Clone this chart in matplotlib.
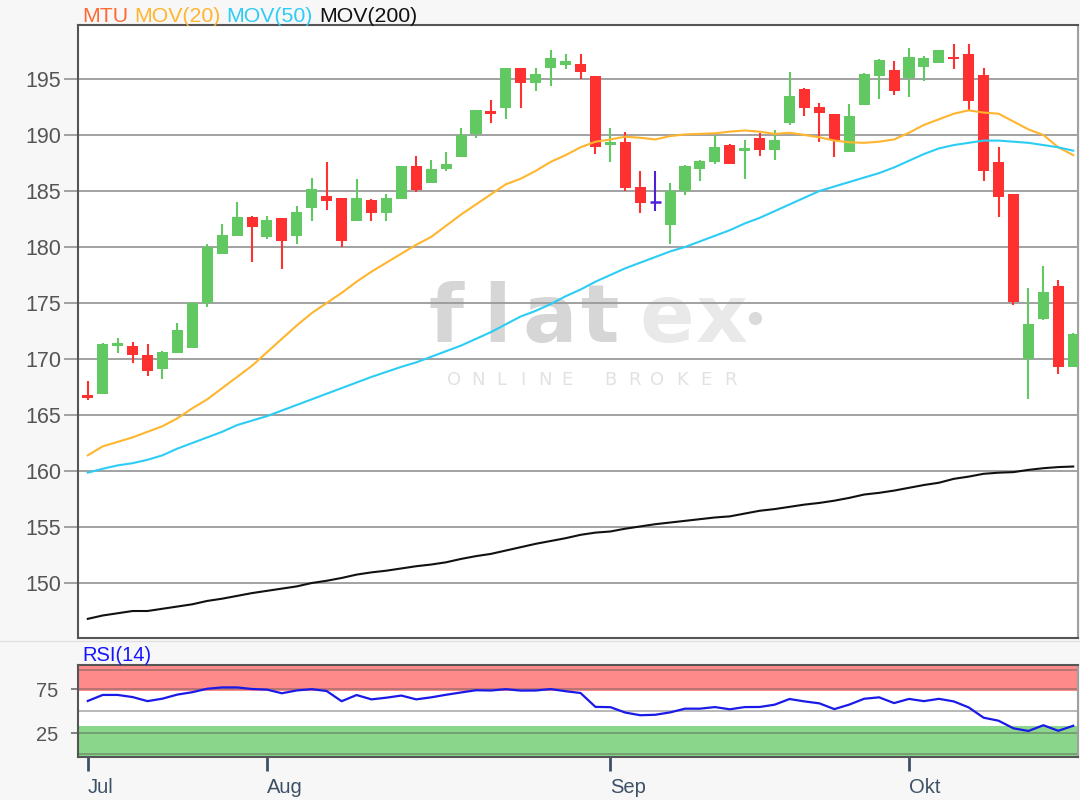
import matplotlib
matplotlib.use("Agg")
import matplotlib.pyplot as plt
from matplotlib.lines import Line2D
import numpy as np

# ---------------- data ----------------
opens = [166.8, 166.9, 171.2, 171.15, 170.4, 169.1, 170.5, 171.0, 175.0, 179.4,
         181.0, 182.7, 180.9, 182.55, 181.0, 183.5, 184.55, 184.35, 182.3, 184.2,
         183.0, 184.25, 187.2, 185.7, 186.95, 188.0, 190.05, 192.05, 192.45, 195.95,
         194.6, 196.0, 196.25, 196.3, 195.25, 189.1, 189.35, 185.4, 184.0, 181.95,
         185.0, 186.95, 187.55, 189.15, 188.55, 189.7, 188.65, 191.05, 194.15, 192.5,
         191.85, 188.5, 192.7, 195.25, 195.8, 195.05, 196.05, 196.45, 197.0, 197.2,
         195.4, 187.55, 184.7, 170.0, 173.55, 176.5, 169.3]
highs = [168.0, 171.4, 171.85, 171.5, 171.35, 170.7, 173.2, 175.1, 180.25, 182.05,
         184.0, 182.8, 182.8, 182.6, 183.65, 186.2, 187.55, 184.4, 186.1, 184.25,
         184.7, 187.2, 188.1, 187.8, 188.45, 190.65, 192.25, 193.1, 196.0, 196.0,
         195.95, 197.6, 197.25, 197.25, 195.3, 190.6, 190.25, 186.8, 186.8, 185.75,
         187.3, 187.75, 190.0, 189.2, 189.55, 190.15, 190.45, 195.65, 194.2, 192.9,
         191.9, 192.75, 195.5, 196.75, 196.65, 197.75, 197.05, 197.6, 198.1, 198.1,
         195.95, 188.95, 184.75, 176.3, 178.3, 177.05, 172.3]
lows = [166.3, 166.9, 170.5, 169.6, 168.5, 168.2, 170.5, 171.0, 174.6, 179.4,
        181.0, 178.7, 180.7, 178.0, 180.3, 182.3, 183.3, 180.0, 182.3, 182.3,
        182.3, 184.25, 184.95, 185.7, 186.75, 188.0, 189.75, 191.05, 191.4, 192.45,
        193.95, 194.4, 195.85, 195.0, 188.3, 187.6, 185.0, 183.0, 183.2, 180.3,
        184.65, 185.85, 187.4, 187.4, 186.05, 188.15, 187.8, 190.85, 191.7, 189.4,
        188.0, 188.5, 192.7, 193.2, 193.55, 193.35, 194.8, 196.45, 195.85, 192.25,
        185.85, 182.65, 174.8, 166.4, 173.5, 168.7, 169.3]
closes = [166.5, 171.3, 171.4, 170.35, 168.9, 170.6, 172.6, 175.0, 180.0, 181.1,
          182.7, 181.75, 182.4, 180.5, 183.1, 185.2, 184.1, 180.5, 184.35, 183.0,
          184.35, 187.2, 185.1, 187.0, 187.4, 190.0, 192.2, 191.9, 195.95, 194.6,
          195.45, 196.85, 196.65, 195.65, 188.95, 189.4, 185.3, 183.9, 184.0, 185.0,
          187.25, 187.7, 188.95, 187.45, 188.8, 188.65, 189.55, 193.5, 192.45, 191.95,
          189.55, 191.7, 195.45, 196.7, 193.95, 197.0, 196.85, 197.55, 196.75, 193.05,
          186.8, 184.45, 175.1, 173.1, 176.0, 169.3, 172.2]
mov20 = [161.4, 162.2, 162.6, 163.0, 163.5, 164.0, 164.7, 165.6, 166.4, 167.4,
         168.4, 169.4, 170.6, 171.8, 173.0, 174.1, 175.0, 175.9, 176.9, 177.8,
         178.6, 179.4, 180.2, 180.9, 181.9, 182.9, 183.8, 184.7, 185.6, 186.1,
         186.8, 187.6, 188.2, 188.9, 189.4, 189.6, 189.85, 189.75, 189.6, 189.9,
         190.05, 190.1, 190.15, 190.3, 190.4, 190.3, 190.1, 190.2, 190.0, 189.8,
         189.5, 189.35, 189.3, 189.4, 189.6, 190.2, 190.9, 191.4, 191.9, 192.2,
         192.0, 191.9, 191.2, 190.5, 190.0, 188.9, 188.2]
mov50 = [159.85, 160.2, 160.5, 160.7, 161.0, 161.4, 162.0, 162.5, 163.0, 163.5,
         164.1, 164.5, 164.9, 165.4, 165.9, 166.4, 166.9, 167.4, 167.9, 168.4,
         168.85, 169.3, 169.7, 170.2, 170.7, 171.2, 171.8, 172.4, 173.1, 173.8,
         174.3, 174.9, 175.6, 176.2, 176.9, 177.5, 178.1, 178.6, 179.1, 179.6,
         180.0, 180.5, 181.0, 181.5, 182.1, 182.6, 183.2, 183.8, 184.4, 185.0,
         185.4, 185.8, 186.2, 186.6, 187.1, 187.7, 188.3, 188.8, 189.1, 189.3,
         189.5, 189.5, 189.4, 189.3, 189.1, 188.9, 188.6]
mov200 = [146.8, 147.1, 147.3, 147.5, 147.5, 147.7, 147.9, 148.1, 148.4, 148.6,
          148.85, 149.1, 149.3, 149.5, 149.7, 150.0, 150.2, 150.45, 150.75, 150.95,
          151.1, 151.3, 151.5, 151.65, 151.85, 152.15, 152.4, 152.6, 152.9, 153.2,
          153.5, 153.75, 154.0, 154.3, 154.5, 154.6, 154.85, 155.05, 155.25, 155.4,
          155.55, 155.7, 155.85, 155.95, 156.2, 156.45, 156.6, 156.8, 157.0, 157.15,
          157.35, 157.6, 157.9, 158.05, 158.25, 158.5, 158.75, 158.95, 159.3, 159.5,
          159.75, 159.85, 159.9, 160.1, 160.25, 160.35, 160.4]
rsi14 = [61.5, 68.3, 68.3, 65.9, 61.3, 64.1, 68.7, 71.4, 75.3, 76.8,
         76.8, 75.0, 74.3, 70.2, 73.4, 74.8, 72.7, 61.2, 68.2, 63.3,
         65.2, 67.6, 63.3, 65.6, 68.5, 71.1, 73.6, 73.3, 74.8, 73.2,
         73.3, 74.9, 72.5, 70.5, 54.8, 54.5, 48.4, 45.4, 45.9, 48.6,
         52.8, 52.8, 54.6, 52.1, 54.6, 54.7, 57.3, 63.7, 61.0, 58.8,
         52.3, 57.4, 64.0, 65.6, 59.1, 63.8, 61.3, 63.9, 61.0, 54.2,
         42.6, 39.2, 30.6, 27.6, 34.1, 27.8, 33.5]

month_labels = ["Jul", "Aug", "Sep", "Okt"]
month_pos = [0, 12, 35, 55]
price_ticks = [150, 155, 160, 165, 170, 175, 180, 185, 190, 195]
rsi_ticks = [25, 75]
rsi_lines = [1.3, 25, 50, 75, 96.5]

title_parts = ["MTU", "MOV(20)", "MOV(50)", "MOV(200)"]
title_colors = ["#ff6a33", "#ffb52e", "#2ccdf5", "#111111"]

# ---------------- styling ----------------
plt.rcParams["font.family"] = ["Liberation Sans", "DejaVu Sans"]
W, H = 1080, 800


def fx(px):
    return px / W


def fy(py):
    return 1 - py / H


GREEN = "#62c962"
RED = "#ff3030"
DOJI = "#5020d8"

fig = plt.figure(figsize=(10.8, 8), dpi=100, facecolor="#f7f7f7")
ax = fig.add_axes([fx(78), fy(638), (1078 - 78) / W, (638 - 25) / H])
ax2 = fig.add_axes([fx(78), fy(757.3), (1078 - 78) / W, (757.3 - 665) / H])
for a in (ax, ax2):
    a.set_facecolor("white")

x = np.arange(len(opens))
o = np.array(opens)
h = np.array(highs)
l = np.array(lows)
c = np.array(closes)
cols = [GREEN if cc > oo else (RED if cc < oo else DOJI) for oo, cc in zip(o, c)]

# wicks
ax.vlines(x, l, h, colors=cols, linewidth=1.5, zorder=3)
# bodies
body_bottom = np.minimum(o, c)
body_h = np.maximum(np.abs(c - o), 0.2)
is_doji = c == o
ax.bar(x[~is_doji], body_h[~is_doji], bottom=body_bottom[~is_doji], width=0.74,
       color=[cc for cc, d in zip(cols, is_doji) if not d], linewidth=0, zorder=3)
ax.hlines(o[is_doji], x[is_doji] - 0.37, x[is_doji] + 0.37, colors=DOJI,
          linewidth=1.8, zorder=3)

# moving averages
ax.plot(x, mov20, color="#ffb52e", lw=1.5, zorder=4)
ax.plot(x, mov50, color="#2ccdf5", lw=1.5, zorder=4)
ax.plot(x, mov200, color="#111111", lw=1.5, zorder=4)

# watermark
letters = [("f", 446, "#d6d6d6"), ("l", 497, "#d6d6d6"), ("a", 550, "#d6d6d6"),
           ("t", 600, "#d6d6d6"), ("e", 667, "#e9e9e9"), ("x", 722, "#e9e9e9")]
for s, px, col in letters:
    ax.text(fx(px), fy(342), s, transform=fig.transFigure, ha="center",
            va="baseline", fontsize=58, fontweight="bold", color=col,
            family="DejaVu Sans", zorder=0.1)
ax.plot([fx(755)], [fy(318)], "o", ms=9.5, color="#dadada", mec="none",
        transform=fig.transFigure, zorder=0.1)
sub = list(zip("ONLINE", [454, 478, 501, 523, 545, 567])) + \
      list(zip("BROKER", [610, 635, 657, 682, 706, 731]))
for s, px in sub:
    ax.text(fx(px), fy(385), s, transform=fig.transFigure, ha="center",
            va="baseline", fontsize=13, color="#e2e2e2", family="DejaVu Sans",
            zorder=0.1)

# main axes formatting
ax.set_xlim(-0.656, 66.32)
ax.set_ylim(145.09, 199.82)
ax.set_yticks(price_ticks)
ax.set_yticklabels([str(t) for t in price_ticks])
ax.set_xticks([])
ax.set_axisbelow(True)
ax.grid(axis="y", color="#9a9a9a", lw=1.3)
ax.tick_params(axis="y", length=10, width=1.3, color="#9a9a9a", labelsize=15.5,
               labelcolor="#555555", pad=2)
for side, sp in ax.spines.items():
    sp.set_color("#555555" if side != "right" else "#a0a0a0")
    sp.set_linewidth(1.5)

# RSI panel
ax2.axhspan(73, 120, color="#ff8a8a", lw=0, zorder=0.2)
ax2.axhspan(-20, 33, color="#8ad68a", lw=0, zorder=0.2)
for v in rsi_lines:
    ax2.axhline(v, color="#555555", alpha=0.45, lw=1.3, zorder=0.3)
ax2.plot(x, rsi14, color="#1a1ae8", lw=1.6, zorder=3)
ax2.set_xlim(-0.656, 66.32)
ax2.set_ylim(-2.1, 102.1)
ax2.set_yticks(rsi_ticks)
ax2.set_yticklabels([str(t) for t in rsi_ticks])
ax2.tick_params(axis="y", length=5, width=1.3, color="#777777", labelsize=14.5,
                labelcolor="#555555", pad=9)
ax2.set_xticks(month_pos)
ax2.set_xticklabels(month_labels, ha="left")
ax2.tick_params(axis="x", length=10, width=2, color="#3d5166", labelsize=14.5,
                labelcolor="#3d5166", pad=5)
for side, sp in ax2.spines.items():
    sp.set_color("#555555" if side != "right" else "#a0a0a0")
    sp.set_linewidth(1.5)

# separator line between panels
fig.add_artist(Line2D([0, 1], [fy(641), fy(641)], color="#e0e0e0", lw=1))

# titles
renderer = fig.canvas.get_renderer()
xpos = 82
for s, col in zip(title_parts, title_colors):
    t = fig.text(fx(xpos), fy(21.5), s, color=col, fontsize=15.3, ha="left",
                 va="baseline")
    bb = t.get_window_extent(renderer=renderer)
    xpos = bb.x1 + 6
fig.text(fx(82), fy(661), "RSI(14)", color="#1515ff", fontsize=14.5, ha="left",
         va="baseline")

fig.savefig("out.png", dpi=100, facecolor=fig.get_facecolor())
